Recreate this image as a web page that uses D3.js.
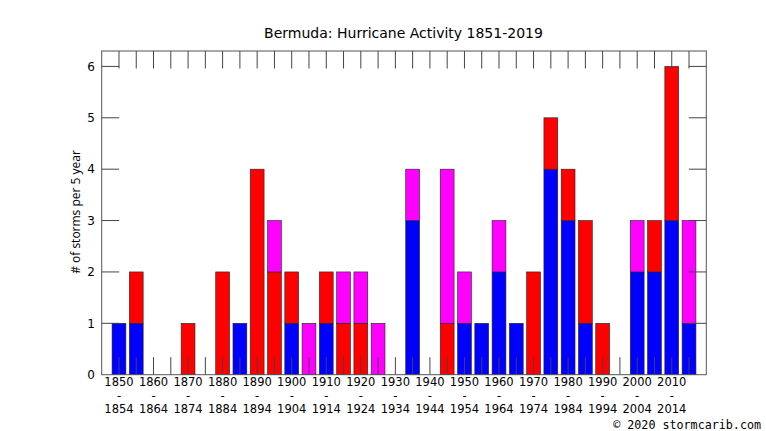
<!DOCTYPE html>
<html>
<head>
<meta charset="utf-8">
<script src="https://cdn.jsdelivr.net/npm/d3@7"></script>
<style>
  body { margin: 0; background: #fff; }
  svg { display: block; }
</style>
</head>
<body>
<div id="chart"></div>
<script>
// 5-year bins, start year of each bin
const binStarts = [1850, 1855, 1860, 1865, 1870, 1875, 1880, 1885, 1890, 1895,
                   1900, 1905, 1910, 1915, 1920, 1925, 1930, 1935, 1940, 1945,
                   1950, 1955, 1960, 1965, 1970, 1975, 1980, 1985, 1990, 1995,
                   2000, 2005, 2010, 2015];
// stacked counts, bottom to top
const blueCounts    = [1, 1, 0, 0, 0, 0, 0, 1, 0, 0,
                       1, 0, 1, 0, 0, 0, 0, 3, 0, 0,
                       1, 1, 2, 1, 0, 4, 3, 1, 0, 0,
                       2, 2, 3, 1];
const redCounts     = [0, 1, 0, 0, 1, 0, 2, 0, 4, 2,
                       1, 0, 1, 1, 1, 0, 0, 0, 0, 1,
                       0, 0, 0, 0, 2, 1, 1, 2, 1, 0,
                       0, 1, 3, 0];
const magentaCounts = [0, 0, 0, 0, 0, 0, 0, 0, 0, 1,
                       0, 1, 0, 1, 1, 1, 0, 1, 0, 3,
                       1, 0, 1, 0, 0, 0, 0, 0, 0, 0,
                       1, 0, 0, 2];
const yTicks = [0, 1, 2, 3, 4, 5, 6];

const width = 766, height = 431;
const plot = { left: 101.7, right: 706.3, top: 51, bottom: 374.7 };

const svg = d3.select("#chart").append("svg")
  .attr("width", width)
  .attr("height", height);

const x = d3.scaleLinear().domain([-1, binStarts.length]).range([plot.left, plot.right]);
const y = d3.scaleLinear().domain([0, 6.3]).range([plot.bottom, plot.top]);

const keys = ["blue", "red", "magenta"];
const colors = { blue: "#0000ff", red: "#ff0000", magenta: "#ff00ff" };
const rows = binStarts.map((s, i) => ({
  i, start: s, blue: blueCounts[i], red: redCounts[i], magenta: magentaCounts[i]
}));
const series = d3.stack().keys(keys)(rows);

const barW = (x(1) - x(0)) * 0.8;

// bars
svg.append("g").selectAll("g")
  .data(series)
  .join("g")
  .attr("fill", d => colors[d.key])
  .selectAll("rect")
  .data(d => d.filter(v => v[1] > v[0]))
  .join("rect")
  .attr("x", d => x(d.data.i) - barW / 2)
  .attr("width", barW)
  .attr("y", d => y(d[1]))
  .attr("height", d => y(d[0]) - y(d[1]))
  .attr("stroke", "#222")
  .attr("stroke-width", 0.6);

// tics (inward, both sides), drawn in front
const tickLen = 17.5;
const tics = svg.append("g").attr("stroke", "#444").attr("stroke-width", 1);
binStarts.forEach((s, i) => {
  tics.append("line").attr("x1", x(i)).attr("x2", x(i))
    .attr("y1", plot.bottom).attr("y2", plot.bottom - tickLen);
  tics.append("line").attr("x1", x(i)).attr("x2", x(i))
    .attr("y1", plot.top).attr("y2", plot.top + tickLen);
});
yTicks.slice(1).forEach(t => {
  tics.append("line").attr("x1", plot.left).attr("x2", plot.left + tickLen)
    .attr("y1", y(t)).attr("y2", y(t));
  tics.append("line").attr("x1", plot.right).attr("x2", plot.right - tickLen)
    .attr("y1", y(t)).attr("y2", y(t));
});

// border
svg.append("rect")
  .attr("x", plot.left).attr("y", plot.top)
  .attr("width", plot.right - plot.left).attr("height", plot.bottom - plot.top)
  .attr("fill", "none").attr("stroke", "#555").attr("stroke-width", 1);

// y tick labels
svg.append("g").selectAll("text")
  .data(yTicks)
  .join("text")
  .attr("x", 95)
  .attr("y", d => y(d))
  .attr("dy", "0.36em")
  .attr("text-anchor", "end")
  .attr("font-family", "DejaVu Sans")
  .attr("font-size", 12)
  .text(d => d);

// x tick labels, every other bin: "start / - / end"
const xl = svg.append("g")
  .attr("font-family", "DejaVu Sans")
  .attr("font-size", 11.5)
  .attr("text-anchor", "middle");
rows.filter(r => r.i % 2 === 0).forEach(r => {
  xl.append("text").attr("x", x(r.i)).attr("y", 386.4).text(r.start);
  xl.append("text").attr("x", x(r.i)).attr("y", 399.9).text("-");
  xl.append("text").attr("x", x(r.i)).attr("y", 413.4).text(r.start + 4);
});

// title
svg.append("text")
  .attr("x", 403.5).attr("y", 38)
  .attr("text-anchor", "middle")
  .attr("font-family", "DejaVu Sans")
  .attr("font-size", 14)
  .text("Bermuda: Hurricane Activity 1851-2019");

// y axis label
svg.append("text")
  .attr("transform", "translate(80, 212) rotate(-90)")
  .attr("text-anchor", "middle")
  .attr("font-family", "Open Sans")
  .attr("font-size", 12)
  .text("# of storms per 5 year");

// credit
svg.append("text")
  .attr("x", 761).attr("y", 429)
  .attr("text-anchor", "end")
  .attr("font-family", "DejaVu Sans Mono")
  .attr("font-size", 11.7)
  .text("© 2020 stormcarib.com");
</script>
</body>
</html>
